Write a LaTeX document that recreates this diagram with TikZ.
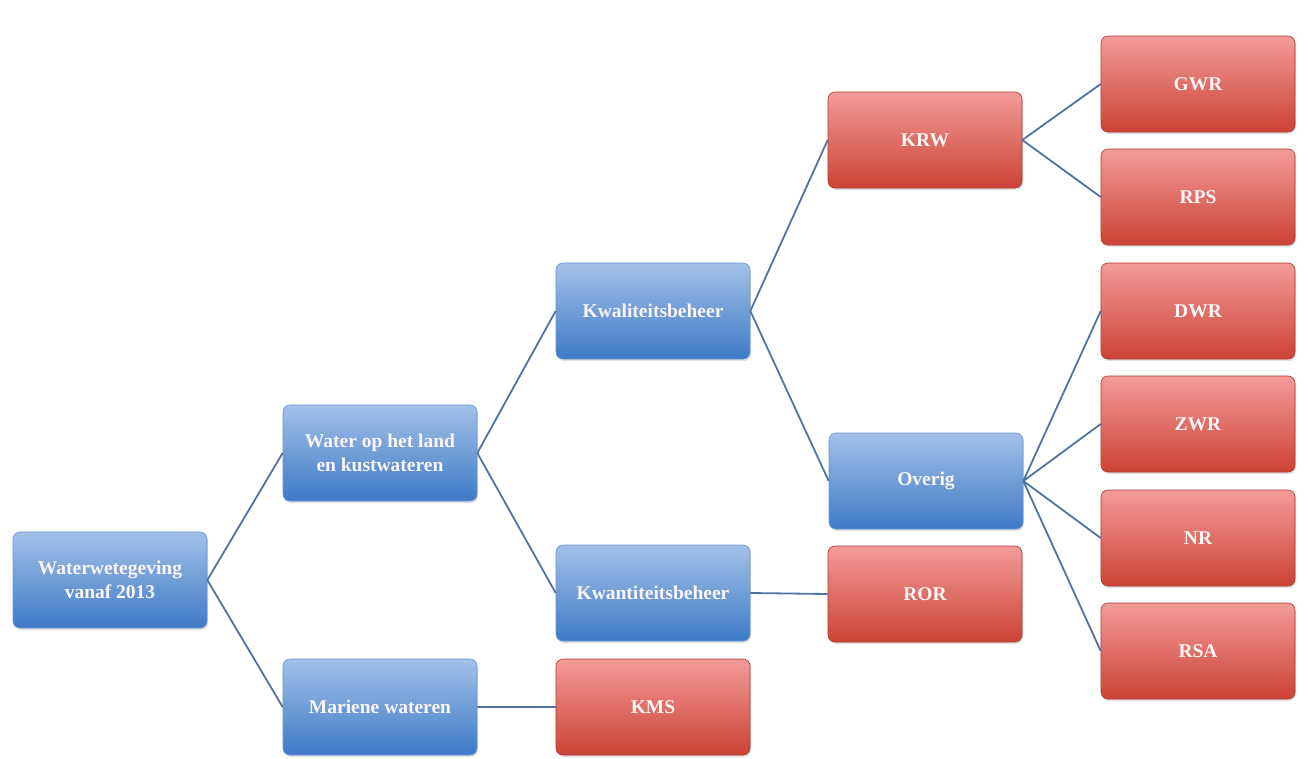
\documentclass[tikz,border=0pt]{standalone}
\usepackage{fontspec}
\setmainfont{Liberation Serif}
\usetikzlibrary{shadows}
\definecolor{bluetop}{RGB}{163,193,232}
\definecolor{bluebot}{RGB}{62,121,198}
\definecolor{redtop}{RGB}{243,155,152}
\definecolor{redbot}{RGB}{204,66,54}
\definecolor{linkc}{RGB}{80,115,160}
\definecolor{txtc}{RGB}{250,246,246}
\tikzset{
  box/.style={rounded corners=7pt, minimum width=194pt, minimum height=96pt,
    inner sep=2pt, align=center, text=txtc, font=\bfseries\fontsize{19.5}{24}\selectfont,
    drop shadow={shadow xshift=1pt, shadow yshift=-2pt, opacity=0.25}},
  bluebox/.style={box, top color=bluetop, bottom color=bluebot, draw=bluebot!80!white, line width=0.6pt},
  redbox/.style={box, top color=redtop, bottom color=redbot, draw=redbot!85!black, line width=0.6pt},
  link/.style={draw=linkc, line width=1.8pt}
}
\begin{document}
\begin{tikzpicture}[x=1pt,y=-1pt]
\useasboundingbox (0,0) rectangle (1308,758);
\node[bluebox] (root) at (110,580) {Waterwetegeving\\vanaf 2013};
\node[bluebox] (land) at (380,453) {Water op het land\\en kustwateren};
\node[bluebox] (mar) at (380,707) {Mariene wateren};
\node[bluebox] (kwal) at (653,311) {Kwaliteitsbeheer};
\node[bluebox] (kwan) at (653,593) {Kwantiteitsbeheer};
\node[redbox] (kms) at (653,707) {KMS};
\node[redbox] (krw) at (925,140) {KRW};
\node[bluebox] (ov) at (926,481) {Overig};
\node[redbox] (ror) at (925,594) {ROR};
\node[redbox] (gwr) at (1198,84) {GWR};
\node[redbox] (rps) at (1198,197) {RPS};
\node[redbox] (dwr) at (1198,311) {DWR};
\node[redbox] (zwr) at (1198,424) {ZWR};
\node[redbox] (nr) at (1198,538) {NR};
\node[redbox] (rsa) at (1198,651) {RSA};
\path[link] (root.east) -- (land.west);
\path[link] (root.east) -- (mar.west);
\path[link] (land.east) -- (kwal.west);
\path[link] (land.east) -- (kwan.west);
\path[link] (mar.east) -- (kms.west);
\path[link] (kwal.east) -- (krw.west);
\path[link] (kwal.east) -- (ov.west);
\path[link] (kwan.east) -- (ror.west);
\path[link] (krw.east) -- (gwr.west);
\path[link] (krw.east) -- (rps.west);
\path[link] (ov.east) -- (dwr.west);
\path[link] (ov.east) -- (zwr.west);
\path[link] (ov.east) -- (nr.west);
\path[link] (ov.east) -- (rsa.west);
\end{tikzpicture}
\end{document}
